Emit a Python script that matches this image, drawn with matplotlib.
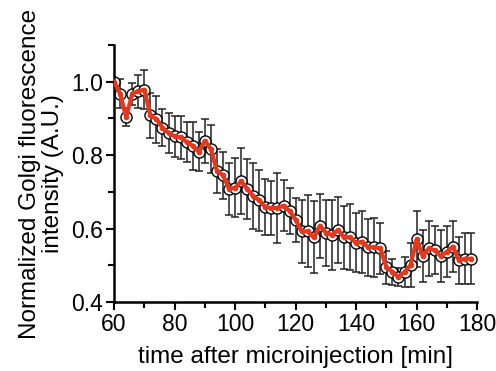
import numpy as np
import matplotlib.pyplot as plt
from matplotlib.ticker import MultipleLocator

plt.rcParams['font.family'] = ['Liberation Sans', 'DejaVu Sans']

# time points (min) and normalized Golgi intensity
time_min = list(range(60, 180, 2))
intensity = [1.000, 0.967, 0.903, 0.967, 0.974, 0.978, 0.908, 0.898, 0.875, 0.860,
             0.851, 0.848, 0.836, 0.825, 0.809, 0.839, 0.816, 0.757, 0.745, 0.708,
             0.711, 0.729, 0.708, 0.688, 0.677, 0.658, 0.656, 0.656, 0.662, 0.648,
             0.624, 0.592, 0.592, 0.576, 0.607, 0.589, 0.582, 0.596, 0.576, 0.576,
             0.561, 0.564, 0.549, 0.549, 0.546, 0.495, 0.482, 0.468, 0.482, 0.500,
             0.571, 0.525, 0.546, 0.541, 0.525, 0.537, 0.551, 0.513, 0.518, 0.518]
error = [0.005, 0.040, 0.025, 0.030, 0.045, 0.053, 0.062, 0.064, 0.050, 0.055,
         0.055, 0.058, 0.055, 0.065, 0.053, 0.060, 0.065, 0.060, 0.064, 0.070,
         0.080, 0.090, 0.082, 0.090, 0.083, 0.076, 0.074, 0.095, 0.070, 0.063,
         0.060, 0.087, 0.098, 0.098, 0.086, 0.090, 0.095, 0.090, 0.085, 0.090,
         0.080, 0.085, 0.078, 0.080, 0.070, 0.045, 0.035, 0.025, 0.040, 0.060,
         0.076, 0.070, 0.075, 0.065, 0.070, 0.070, 0.070, 0.065, 0.070, 0.070]

red = '#e8381c'

fig = plt.figure(figsize=(4.96, 3.71), dpi=100)
ax = fig.add_axes([0.23, 0.186, 0.732, 0.693])

ax.errorbar(time_min, intensity, yerr=error, fmt='none', ecolor='#222222',
            elinewidth=1.1, capsize=3, capthick=1.1, zorder=1)
ax.plot(time_min, intensity, 'o', ms=8, mfc='white', mec='black', mew=1.0, zorder=2)
ax.plot(time_min, intensity, '-', color=red, lw=3, zorder=3)
ax.plot(time_min, intensity, 'o', ms=3, color=red, zorder=4)

ax.set_xlim(60, 180)
ax.set_ylim(0.4, 1.1)
ax.set_xticks([60, 80, 100, 120, 140, 160, 180])
ax.set_yticks([0.4, 0.6, 0.8, 1.0])
ax.xaxis.set_minor_locator(MultipleLocator(10))
ax.yaxis.set_minor_locator(MultipleLocator(0.1))

for s in ['top', 'right']:
    ax.spines[s].set_visible(False)
for s in ['left', 'bottom']:
    ax.spines[s].set_linewidth(1.8)
ax.tick_params(which='major', length=6, width=1.5, labelsize=16.5, direction='out', pad=2)
ax.tick_params(which='minor', length=4, width=1.5, direction='out')

ax.set_xlabel('time after microinjection [min]', fontsize=17.5, labelpad=7)
ax.set_ylabel('Normalized Golgi fluorescence\nintensity (A.U.)', fontsize=17.5,
              labelpad=5, linespacing=1.05)

fig.savefig('out.png', dpi=100)
